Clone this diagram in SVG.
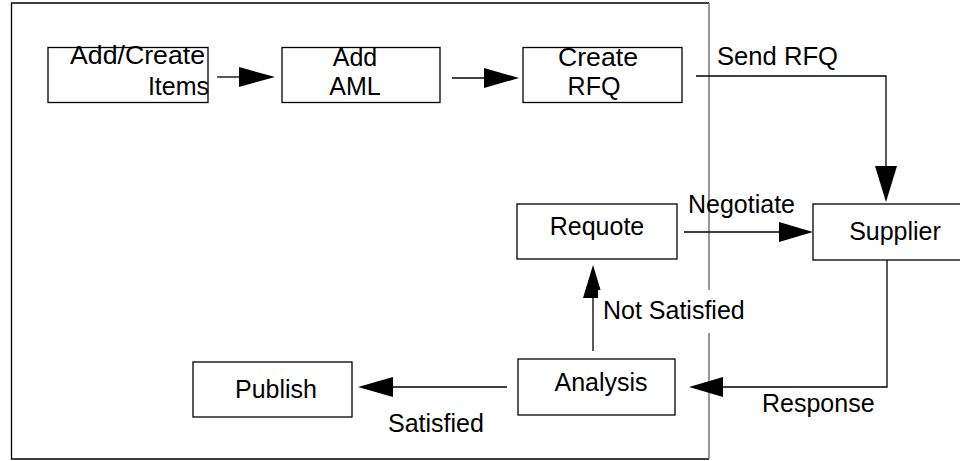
<svg xmlns="http://www.w3.org/2000/svg" width="960" height="461" viewBox="0 0 960 461">
<style>
.box{fill:#fff;stroke:#000;stroke-width:1.3}
.t{font-family:"Liberation Sans",Arial,sans-serif;font-size:25px;fill:#000}
.m{text-anchor:middle}
.e{text-anchor:end}
.ln{stroke:#000;stroke-width:1.3;fill:none}
.ah{fill:#000}
</style>
<rect width="960" height="461" fill="#fff"/>
<g id="frame">
<path d="M709 3 H11.5 V459 H709" class="ln"/>
<line x1="709" y1="3" x2="709" y2="459" stroke="#777" stroke-width="1.5"/>
</g>
<g id="connectors">
<line class="ln" x1="217" y1="77" x2="240" y2="77"/>
<polygon class="ah" points="239,67 275,77 239,87"/>
<line class="ln" x1="452" y1="78" x2="486" y2="78"/>
<polygon class="ah" points="484,68 519,78 484,88"/>
<polyline class="ln" points="696,76 886,76 886,168"/>
<polygon class="ah" points="875,166 897,166 886,202"/>
<line class="ln" x1="684" y1="232" x2="781" y2="232"/>
<polygon class="ah" points="779,222 813,232 779,242"/>
<polyline class="ln" points="887,260 887,387 720,387"/>
<polygon class="ah" points="723,377 689,387 723,397"/>
<line class="ln" x1="507" y1="387" x2="391" y2="387"/>
<polygon class="ah" points="393,377 358,387 393,397"/>
<line class="ln" x1="593" y1="351" x2="593" y2="296"/>
<polygon class="ah" points="583,298 593,265 603,298"/>
</g>
<g id="labels">
<text class="t" x="717" y="65" textLength="121" lengthAdjust="spacingAndGlyphs">Send RFQ</text>
<text class="t" x="688" y="213">Negotiate</text>
<rect x="598" y="290" width="152" height="43" fill="#fff"/>
<text class="t" x="603" y="319">Not Satisfied</text>
<text class="t" x="762" y="412">Response</text>
<text class="t" x="388" y="432">Satisfied</text>
</g>
<g id="node-add-create-items">
<rect class="box" x="48" y="47.5" width="160" height="55"/>
<text class="t" x="70" y="64" textLength="135" lengthAdjust="spacingAndGlyphs">Add/Create</text>
<text class="t e" x="209" y="95">Items</text>
</g>
<g id="node-add-aml">
<rect class="box" x="282" y="47.5" width="158" height="55"/>
<text class="t m" x="355" y="66">Add</text>
<text class="t m" x="355" y="95">AML</text>
</g>
<g id="node-create-rfq">
<rect class="box" x="523" y="47.5" width="159" height="55"/>
<text class="t" x="558" y="66" textLength="80" lengthAdjust="spacingAndGlyphs">Create</text>
<text class="t m" x="594" y="95">RFQ</text>
</g>
<g id="node-supplier">
<rect class="box" x="813" y="204" width="160" height="56"/>
<text class="t m" x="895" y="240">Supplier</text>
</g>
<g id="node-requote">
<rect class="box" x="517" y="204" width="160" height="55"/>
<text class="t m" x="597" y="235">Requote</text>
</g>
<g id="node-analysis">
<rect class="box" x="518" y="359" width="157" height="56"/>
<text class="t m" x="601" y="391">Analysis</text>
</g>
<g id="node-publish">
<rect class="box" x="193" y="362" width="159" height="55"/>
<text class="t m" x="276" y="398">Publish</text>
</g>
</svg>
